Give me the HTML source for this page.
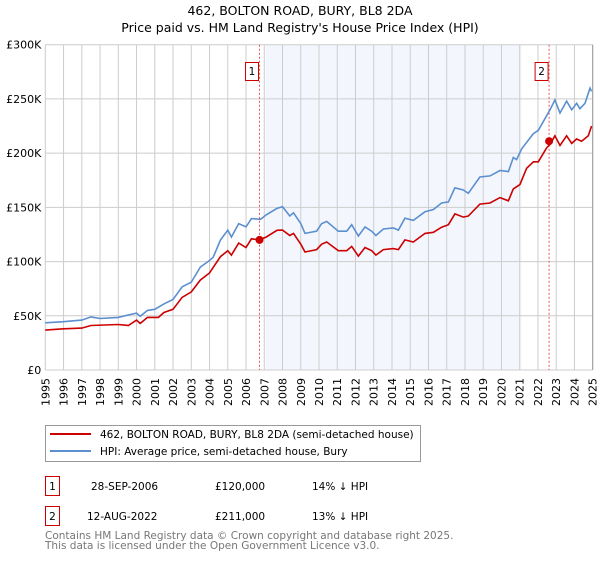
<!DOCTYPE html>
<html><head><meta charset="utf-8"><style>
body{margin:0;background:#fff;}
svg text{font-family:"DejaVu Sans","Liberation Sans",sans-serif;}
</style></head><body>
<svg id="chart" width="600" height="560" xmlns="http://www.w3.org/2000/svg">
<text x="300" y="15" text-anchor="middle" font-size="12.5">462, BOLTON ROAD, BURY, BL8 2DA</text>
<text x="300" y="32" text-anchor="middle" font-size="12.5">Price paid vs. HM Land Registry's House Price Index (HPI)</text>
<g id="plot"></g>
<g>
<rect x="45.5" y="425.5" width="375" height="36" fill="#fff" stroke="#999"/>
<line x1="50" y1="434" x2="91" y2="434" stroke="#cc0000" stroke-width="2"/>
<text x="100" y="438" font-size="10.5">462, BOLTON ROAD, BURY, BL8 2DA (semi-detached house)</text>
<line x1="50" y1="451" x2="91" y2="451" stroke="#5b8fd0" stroke-width="2"/>
<text x="100" y="455" font-size="10.5">HPI: Average price, semi-detached house, Bury</text>
</g>
<g font-size="10.5">
<rect x="45.5" y="476.5" width="14" height="19" fill="#fff" stroke="#cc0000"/>
<text x="52.5" y="490" text-anchor="middle">1</text>
<text x="91" y="490">28-SEP-2006</text>
<text x="215" y="490">£120,000</text>
<text x="312" y="490">14% ↓ HPI</text>
</g>
<g font-size="10.5">
<rect x="45.5" y="506.5" width="14" height="19" fill="#fff" stroke="#cc0000"/>
<text x="52.5" y="520" text-anchor="middle">2</text>
<text x="87" y="520">12-AUG-2022</text>
<text x="215" y="520">£211,000</text>
<text x="312" y="520">13% ↓ HPI</text>
</g>
<text x="45" y="539" font-size="10.5" fill="#777">Contains HM Land Registry data © Crown copyright and database right 2025.</text>
<text x="45" y="549" font-size="10.5" fill="#777">This data is licensed under the Open Government Licence v3.0.</text>
</svg>
<script>
const hpiYears=[1995.0,1996.0,1997.0,1997.5,1998.0,1999.0,2000.0,2000.2,2000.6,2001.0,2001.5,2002.0,2002.5,2003.0,2003.5,2004.0,2004.2,2004.6,2005.0,2005.2,2005.6,2006.0,2006.3,2006.8,2007.1,2007.7,2008.0,2008.4,2008.6,2009.0,
2009.23,2009.87,2010.15,2010.42,2011.06,2011.52,2011.79,2012.16,2012.52,2012.89,2013.12,2013.53,2014.07,2014.35,2014.71,2015.17,2015.81,2016.27,2016.72,2017.09,2017.45,2017.91,2018.18,2018.82,2019.37,2019.92,2020.38,2020.65,2020.83,2021.11,2021.75,2022.02,2022.66,2022.93,2023.21,2023.57,2023.85,2024.12,2024.30,2024.58,2024.85,2024.94];
const hpiValues=[43.5,44.5,46,49,47.5,48.5,52.5,49.5,55,56,61,65,76.7,81,95,101,104,120,129,122.7,135,132,139.6,139,143,149,150.6,142,145,135,
126,128,135,137,128,128,134,123.6,132,128,124,130,131,129,140,138,146,148,154,155,168,166,163,178,179,184,183,196,194,204,218,221,240,249,237,248,240,246,241,246,260,257];
const priceYears=[1995.0,1996.0,1997.0,1997.5,1999.0,1999.55,2000.0,2000.2,2000.6,2001.2,2001.5,2002.0,2002.5,2003.0,2003.5,2004.0,2004.6,2005.0,2005.2,2005.6,2006.0,2006.3,2006.7,2007.1,2007.7,2008.0,2008.4,2008.6,2009.0,
2009.23,2009.87,2010.15,2010.42,2011.06,2011.52,2011.79,2012.16,2012.52,2012.89,2013.12,2013.53,2014.07,2014.35,2014.71,2015.17,2015.81,2016.27,2016.72,2017.09,2017.45,2017.91,2018.18,2018.82,2019.37,2019.92,2020.38,2020.65,2021.01,2021.38,2021.75,2022.02,2022.48,2022.66,2022.93,2023.21,2023.57,2023.85,2024.12,2024.39,2024.76,2024.94];
const priceValues=[36.8,38,38.6,41,42,41,46,43,48.5,48.5,53,56,67,72,83,89.5,104.6,110,106,117,113,121,120,122.6,128.8,129,124,126,116,
108.8,111,116,118,110,110,114,105,113,110,106,111,112,111,120,118,126,127,131.7,134,144,141,142,153,154,159,156,167,171,186,192,192,205,208,216,207,216,209,213,211,216,225];
const saleYears=[2006.74,2022.61];
const saleValues=[120,211];
const saleLabels=["1","2"];
const yTicks=[0,50,100,150,200,250,300];
const yTickLabels=["£0","£50K","£100K","£150K","£200K","£250K","£300K"];
const xTicks=[1995,1996,1997,1998,1999,2000,2001,2002,2003,2004,2005,2006,2007,2008,2009,2010,2011,2012,2013,2014,2015,2016,2017,2018,2019,2020,2021,2022,2023,2024,2025];
const shadeRange=[2007.07,2021.1];

const L=45.3,R=592.7,T=44.7,B=370;
const x=y=>L+(y-1995)/30*(R-L);
const yv=v=>B-v/300*(B-T);
const NS="http://www.w3.org/2000/svg";
const g=document.getElementById('plot');
function mk(t,a,p){const e=document.createElementNS(NS,t);for(const k in a)e.setAttribute(k,a[k]);(p||g).appendChild(e);return e;}

const sh=mk('rect',{x:x(shadeRange[0]),y:T,width:x(shadeRange[1])-x(shadeRange[0]),height:B-T,fill:'#eef3fc',opacity:0.7});



xTicks.forEach(t=>{
  const l=mk('line',{x1:x(t),x2:x(t),y1:T,y2:B,stroke:'#ccc','stroke-width':1});
  
  
  const tx=mk('text',{x:0,y:0,'font-size':11,'text-anchor':'end',transform:`translate(${x(t)+4},${B+8}) rotate(-90)`});
  tx.textContent=t;
  
  
});
yTicks.forEach((t,i)=>{
  const l=mk('line',{x1:L,x2:R,y1:yv(t),y2:yv(t),stroke:'#ccc','stroke-width':1});
  
  
  const tx=mk('text',{x:L-4,y:yv(t)+4,'font-size':11,'text-anchor':'end'});
  tx.textContent=yTickLabels[i];
  
  
});
const edge=mk('line',{x1:R,x2:R,y1:T,y2:B,stroke:'#999','stroke-width':1});



saleYears.forEach((s,i)=>{
  const l=mk('line',{x1:x(s),x2:x(s),y1:T,y2:B,stroke:'#ee5555','stroke-width':1,'stroke-dasharray':'2,2'});
  
  
  const bx=mk('rect',{x:x(s)-14,y:62.5,width:13,height:18,fill:'#fff',stroke:'#cc0000'});
  
  
  const tx=mk('text',{x:x(s)-7.5,y:75,'font-size':10.5,'text-anchor':'middle'});
  tx.textContent=saleLabels[i];
  
  
});

const hp=mk('path',{d:hpiYears.map((t,i)=>(i?'L':'M')+x(t).toFixed(1)+','+yv(hpiValues[i]).toFixed(1)).join(''),fill:'none',stroke:'#5b8fd0','stroke-width':1.6});


const pp=mk('path',{d:priceYears.map((t,i)=>(i?'L':'M')+x(t).toFixed(1)+','+yv(priceValues[i]).toFixed(1)).join(''),fill:'none',stroke:'#cc0000','stroke-width':1.6});


saleYears.forEach((s,i)=>{
  const c=mk('circle',{cx:x(s),cy:yv(saleValues[i]),r:4,fill:'#cc0000'});
  
  
});
</script>
</body></html>
